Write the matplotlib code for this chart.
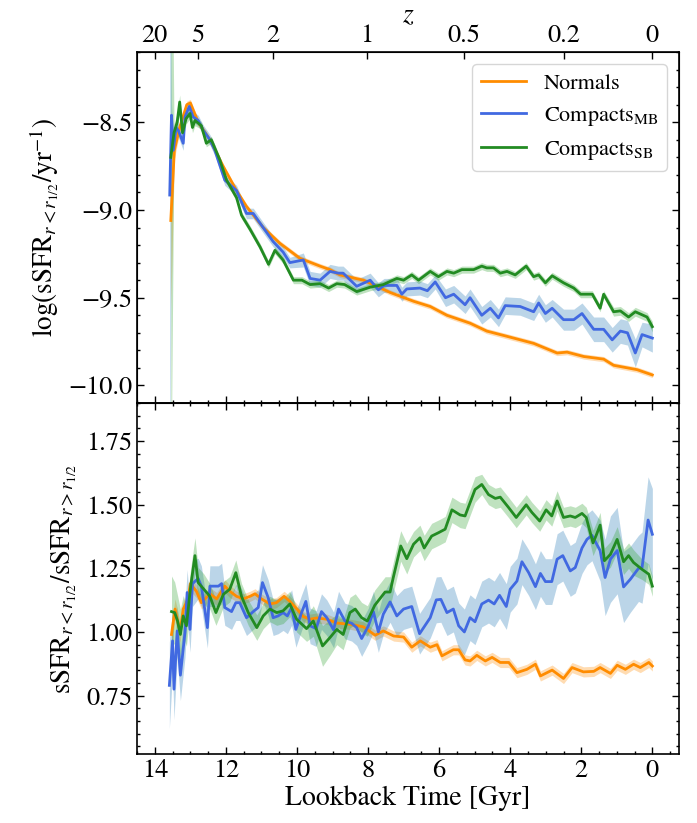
import numpy as np
import matplotlib
matplotlib.use("Agg")
import matplotlib.pyplot as plt
from matplotlib.ticker import MultipleLocator

plt.rcParams['font.family'] = ['STIXGeneral', 'DejaVu Serif']
plt.rcParams['mathtext.fontset'] = 'stix'

# --- gorny panel: log sSFR wewnatrz r_1/2 ---
t_norm_top = [13.55, 13.45, 13.30, 13.10, 13.00, 12.78, 12.45, 12.08, 11.70, 11.42, 10.95, 10.48,
              9.92, 9.35, 9.07, 8.79, 8.13, 7.38, 6.72, 6.25, 5.78, 5.13, 4.66, 4.09, 3.34,
              2.68, 2.40, 1.93, 1.37, 1.09, 0.43, 0.00]
v_norm_top = [-9.06, -8.66, -8.53, -8.40, -8.39, -8.50, -8.60, -8.75, -8.89, -8.98, -9.10, -9.19,
              -9.275, -9.32, -9.34, -9.37, -9.40, -9.47, -9.52, -9.55, -9.60, -9.645, -9.69, -9.72, -9.76,
              -9.815, -9.81, -9.835, -9.85, -9.885, -9.91, -9.94]
e_norm_top = [0.5, 0.05, 0.03, 0.02, 0.02, 0.02, 0.015, 0.015, 0.015, 0.015, 0.015, 0.015,
              0.015, 0.015, 0.015, 0.015, 0.015, 0.015, 0.015, 0.015, 0.015, 0.015, 0.015, 0.015, 0.015,
              0.015, 0.015, 0.015, 0.015, 0.015, 0.015, 0.015]

t_mb_top = [13.58, 13.53, 13.48, 13.40, 13.33, 13.20, 13.15, 13.03, 12.92, 12.78, 12.64, 12.45,
            12.31, 12.03, 11.70, 11.42, 11.23, 11.04, 10.67, 10.39, 10.20, 9.82, 9.63, 9.35,
            9.07, 8.84, 8.70, 8.32, 7.94, 7.71, 7.55, 7.19, 7.05, 6.91, 6.54, 6.33, 6.11,
            5.82, 5.59, 5.27, 5.13, 4.80, 4.56, 4.33, 4.14, 3.72, 3.34, 3.20, 3.01, 2.82,
            2.50, 2.21, 1.98, 1.65, 1.37, 1.13, 0.90, 0.70, 0.48, 0.29, 0.00]
v_mb_top = [-8.915, -8.46, -8.66, -8.53, -8.55, -8.62, -8.47, -8.41, -8.47, -8.49, -8.545, -8.60,
            -8.66, -8.83, -8.89, -9.02, -9.02, -9.075, -9.18, -9.24, -9.30, -9.285, -9.39, -9.40,
            -9.35, -9.36, -9.36, -9.435, -9.40, -9.455, -9.43, -9.43, -9.48, -9.45, -9.445, -9.46, -9.41,
            -9.50, -9.48, -9.54, -9.50, -9.60, -9.56, -9.615, -9.545, -9.55, -9.58, -9.53, -9.59, -9.56,
            -9.625, -9.625, -9.59, -9.68, -9.68, -9.74, -9.69, -9.70, -9.815, -9.71, -9.73]
e_mb_top = [2.0, 0.06, 0.06, 0.04, 0.04, 0.04, 0.03, 0.03, 0.03, 0.03, 0.03, 0.03,
            0.03, 0.03, 0.03, 0.03, 0.03, 0.03, 0.03, 0.03, 0.03, 0.04, 0.04, 0.04,
            0.04, 0.04, 0.04, 0.04, 0.04, 0.04, 0.04, 0.04, 0.04, 0.04, 0.04, 0.04, 0.04,
            0.05, 0.05, 0.05, 0.05, 0.05, 0.05, 0.05, 0.05, 0.05, 0.05, 0.05, 0.05, 0.05,
            0.06, 0.06, 0.06, 0.07, 0.07, 0.07, 0.07, 0.07, 0.08, 0.07, 0.08]

t_sb_top = [13.55, 13.46, 13.37, 13.30, 13.22, 13.12, 13.01, 12.94, 12.87, 12.69, 12.55, 12.41,
            12.17, 11.98, 11.70, 11.56, 11.32, 11.04, 10.80, 10.62, 10.39, 10.10, 9.86, 9.63,
            9.35, 9.11, 8.88, 8.66, 8.32, 7.94, 7.57, 7.19, 7.00, 6.77, 6.58, 6.25, 6.02,
            5.78, 5.59, 5.36, 5.03, 4.80, 4.66, 4.47, 4.28, 4.09, 3.86, 3.55, 3.34, 3.20,
            3.01, 2.82, 2.50, 2.21, 2.02, 1.69, 1.47, 1.37, 1.09, 0.90, 0.67, 0.48, 0.15, 0.00]
v_sb_top = [-8.70, -8.56, -8.50, -8.385, -8.56, -8.48, -8.45, -8.53, -8.49, -8.52, -8.62, -8.60,
            -8.715, -8.83, -8.93, -9.03, -9.11, -9.21, -9.31, -9.23, -9.285, -9.40, -9.40, -9.425,
            -9.42, -9.445, -9.42, -9.425, -9.465, -9.44, -9.425, -9.39, -9.40, -9.37, -9.40, -9.35, -9.38,
            -9.35, -9.36, -9.34, -9.34, -9.32, -9.33, -9.33, -9.36, -9.35, -9.37, -9.32, -9.38, -9.37,
            -9.415, -9.375, -9.415, -9.445, -9.48, -9.48, -9.56, -9.48, -9.58, -9.575, -9.61, -9.58, -9.61, -9.665]
e_sb_top = [2.0, 0.05, 0.05, 0.04, 0.04, 0.03, 0.03, 0.03, 0.03, 0.02, 0.02, 0.02,
            0.02, 0.02, 0.02, 0.02, 0.02, 0.02, 0.02, 0.02, 0.02, 0.02, 0.02, 0.02,
            0.02, 0.02, 0.02, 0.02, 0.02, 0.02, 0.02, 0.02, 0.02, 0.02, 0.02, 0.02, 0.02,
            0.02, 0.02, 0.02, 0.02, 0.02, 0.02, 0.02, 0.02, 0.02, 0.02, 0.02, 0.02, 0.02,
            0.02, 0.02, 0.02, 0.02, 0.02, 0.02, 0.02, 0.02, 0.025, 0.025, 0.025, 0.025, 0.025, 0.03]

# --- dolny panel: stosunek sSFR wewnatrz / na zewnatrz ---
t_norm_bot = [13.53, 13.43, 13.29, 13.20, 13.06, 13.00, 12.83, 12.69, 12.45, 12.26, 12.03, 11.89,
              11.70, 11.51, 11.32, 11.18, 11.00, 10.76, 10.58, 10.36, 10.20, 10.00, 9.82, 9.63,
              9.44, 9.16, 8.88, 8.50, 8.13, 7.80, 7.57, 7.28, 7.00, 6.77, 6.53, 6.25, 6.06,
              5.92, 5.60, 5.45, 5.27, 5.13, 4.94, 4.70, 4.51, 4.28, 4.04, 3.81, 3.53, 3.29,
              3.15, 2.82, 2.50, 2.26, 1.94, 1.65, 1.47, 1.18, 0.99, 0.76, 0.53, 0.34, 0.10, 0.00]
v_norm_bot = [0.99, 1.09, 1.00, 1.09, 1.13, 1.19, 1.16, 1.115, 1.15, 1.13, 1.18, 1.16,
              1.14, 1.13, 1.14, 1.15, 1.13, 1.11, 1.115, 1.14, 1.12, 1.09, 1.06, 1.05,
              1.055, 1.05, 1.035, 1.03, 1.02, 0.987, 1.004, 0.984, 0.98, 0.94, 0.965, 0.94, 0.95,
              0.906, 0.93, 0.93, 0.89, 0.886, 0.908, 0.886, 0.90, 0.88, 0.88, 0.84, 0.853, 0.873,
              0.827, 0.85, 0.817, 0.86, 0.843, 0.845, 0.86, 0.837, 0.869, 0.853, 0.873, 0.86, 0.88, 0.866]
e_norm_bot = [0.05, 0.04, 0.04, 0.03, 0.03, 0.03, 0.025, 0.025, 0.025, 0.025, 0.025, 0.025,
              0.02, 0.02, 0.02, 0.02, 0.02, 0.02, 0.02, 0.02, 0.02, 0.02, 0.02, 0.02,
              0.02, 0.02, 0.02, 0.02, 0.02, 0.02, 0.02, 0.02, 0.02, 0.02, 0.02, 0.02, 0.02,
              0.02, 0.02, 0.02, 0.02, 0.02, 0.02, 0.02, 0.02, 0.02, 0.02, 0.02, 0.02, 0.02,
              0.02, 0.02, 0.02, 0.02, 0.02, 0.02, 0.02, 0.02, 0.02, 0.02, 0.02, 0.02, 0.02, 0.02]

t_mb_bot = [13.59, 13.50, 13.46, 13.37, 13.28, 13.15, 13.09, 13.01, 12.94, 12.78, 12.69, 12.52,
            12.45, 12.21, 12.12, 12.03, 11.84, 11.72, 11.61, 11.42, 11.23, 11.09, 10.97, 10.81,
            10.67, 10.53, 10.39, 10.27, 10.15, 10.03, 9.87, 9.75, 9.63, 9.46, 9.31, 9.16, 8.97,
            8.83, 8.65, 8.46, 8.32, 8.18, 7.99, 7.85, 7.71, 7.57, 7.38, 7.19, 7.00, 6.77,
            6.55, 6.25, 6.08, 5.95, 5.78, 5.60, 5.45, 5.29, 5.13, 4.99, 4.80, 4.61, 4.45,
            4.30, 4.11, 4.00, 3.81, 3.67, 3.48, 3.29, 3.15, 3.01, 2.83, 2.68, 2.52, 2.31,
            2.17, 1.98, 1.84, 1.70, 1.47, 1.33, 1.18, 0.99, 0.81, 0.62, 0.39, 0.29, 0.12, 0.00]
v_mb_bot = [0.79, 0.965, 0.775, 1.004, 0.83, 1.0, 1.155, 1.01, 1.19, 1.21, 1.18, 1.017,
            1.18, 1.18, 1.19, 1.096, 1.08, 1.115, 1.115, 1.056, 1.08, 1.096, 1.194, 1.135,
            1.056, 1.063, 1.076, 1.063, 1.096, 1.01, 1.076, 1.12, 1.024, 1.013, 1.08, 1.056, 1.008,
            1.09, 1.043, 1.034, 1.017, 0.974, 1.024, 1.08, 1.0, 1.07, 1.118, 1.063, 1.09, 1.10,
            0.993, 1.056, 1.126, 1.128, 1.076, 1.09, 1.024, 1.0, 1.056, 1.04, 1.11, 1.125, 1.11,
            1.144, 1.10, 1.168, 1.20, 1.276, 1.233, 1.178, 1.23, 1.198, 1.198, 1.286, 1.30, 1.24,
            1.253, 1.33, 1.364, 1.38, 1.32, 1.214, 1.286, 1.32, 1.177, 1.207, 1.25, 1.253, 1.44, 1.384]
e_mb_bot = [0.17, 0.12, 0.12, 0.1, 0.1, 0.1, 0.09, 0.09, 0.09, 0.08, 0.08, 0.08,
            0.08, 0.08, 0.08, 0.07, 0.07, 0.07, 0.07, 0.07, 0.07, 0.07, 0.07, 0.07,
            0.07, 0.07, 0.07, 0.07, 0.07, 0.07, 0.07, 0.07, 0.07, 0.07, 0.07, 0.07, 0.07,
            0.07, 0.07, 0.07, 0.07, 0.07, 0.07, 0.08, 0.08, 0.08, 0.08, 0.08, 0.08, 0.08,
            0.08, 0.08, 0.09, 0.09, 0.09, 0.09, 0.09, 0.09, 0.09, 0.09, 0.09, 0.09, 0.09,
            0.09, 0.09, 0.09, 0.09, 0.09, 0.09, 0.09, 0.09, 0.09, 0.09, 0.1, 0.1, 0.1,
            0.1, 0.1, 0.1, 0.1, 0.12, 0.15, 0.17, 0.17, 0.14, 0.13, 0.13, 0.14, 0.17, 0.18]

t_sb_bot = [13.53, 13.44, 13.36, 13.28, 13.20, 13.11, 12.99, 12.87, 12.78, 12.62, 12.45, 12.28,
            12.07, 11.89, 11.72, 11.56, 11.37, 11.13, 10.95, 10.76, 10.57, 10.39, 10.20, 10.01,
            9.73, 9.54, 9.28, 9.07, 8.88, 8.70, 8.51, 8.36, 8.18, 8.02, 7.81, 7.52, 7.38,
            7.29, 7.08, 6.91, 6.72, 6.54, 6.42, 6.21, 6.02, 5.83, 5.64, 5.41, 5.27, 4.99,
            4.80, 4.61, 4.42, 4.28, 4.05, 3.83, 3.55, 3.39, 3.17, 2.99, 2.83, 2.68, 2.50,
            2.31, 2.17, 1.98, 1.86, 1.67, 1.58, 1.47, 1.35, 1.18, 0.99, 0.81, 0.67, 0.53,
            0.29, 0.10, 0.00]
v_sb_bot = [1.08, 1.076, 1.043, 0.99, 1.063, 1.024, 1.18, 1.30, 1.194, 1.168, 1.14, 1.076,
            1.148, 1.168, 1.233, 1.14, 1.076, 1.017, 1.063, 1.09, 1.076, 1.083, 1.11, 1.05,
            1.013, 1.043, 0.945, 0.978, 1.01, 0.99, 1.076, 1.09, 1.056, 1.043, 1.105, 1.157, 1.157,
            1.214, 1.338, 1.288, 1.345, 1.37, 1.33, 1.377, 1.39, 1.404, 1.48, 1.46, 1.456, 1.56,
            1.58, 1.54, 1.525, 1.53, 1.49, 1.45, 1.50, 1.47, 1.436, 1.48, 1.456, 1.515, 1.45,
            1.456, 1.45, 1.466, 1.45, 1.35, 1.38, 1.42, 1.28, 1.305, 1.364, 1.276, 1.30, 1.273,
            1.246, 1.227, 1.18]
e_sb_bot = [0.14, 0.12, 0.1, 0.1, 0.08, 0.08, 0.07, 0.07, 0.06, 0.06, 0.05, 0.05,
            0.05, 0.05, 0.05, 0.05, 0.05, 0.05, 0.05, 0.05, 0.05, 0.05, 0.05, 0.05,
            0.05, 0.06, 0.08, 0.07, 0.06, 0.06, 0.06, 0.06, 0.06, 0.06, 0.06, 0.06, 0.06,
            0.06, 0.06, 0.06, 0.05, 0.05, 0.05, 0.05, 0.05, 0.05, 0.05, 0.05, 0.05, 0.05,
            0.04, 0.04, 0.04, 0.04, 0.04, 0.04, 0.04, 0.04, 0.04, 0.04, 0.04, 0.04, 0.04,
            0.04, 0.04, 0.04, 0.04, 0.05, 0.05, 0.05, 0.05, 0.05, 0.05, 0.05, 0.05, 0.05,
            0.04, 0.04, 0.04]

# os z (redshift) na gorze - pozycje w lookback time
z_labels = ['20', '5', '2', '1', '0.5', '0.2', '0']
z_lookback = [14.0, 12.78, 10.67, 8.04, 5.30, 2.50, 0.0]

series = [
    ('Normals', 'darkorange', 'darkorange', t_norm_top, v_norm_top, e_norm_top, t_norm_bot, v_norm_bot, e_norm_bot),
    (r'Compacts$_{\rm MB}$', 'royalblue', 'tab:blue', t_mb_top, v_mb_top, e_mb_top, t_mb_bot, v_mb_bot, e_mb_bot),
    (r'Compacts$_{\rm SB}$', 'forestgreen', 'tab:green', t_sb_top, v_sb_top, e_sb_top, t_sb_bot, v_sb_bot, e_sb_bot),
]

fig, (ax1, ax2) = plt.subplots(2, 1, figsize=(6.97, 8.23), dpi=100, sharex=True)
fig.subplots_adjust(left=0.1966, right=0.9742, top=0.9368, bottom=0.0838, hspace=0)

for label, lc, fc, tt, vt, et, tb, vb, eb in series:
    tt, vt, et = np.array(tt), np.array(vt), np.array(et)
    tb, vb, eb = np.array(tb), np.array(vb), np.array(eb)
    ax1.fill_between(tt, vt - et, vt + et, color=fc, alpha=0.3, lw=0)
    ax1.plot(tt, vt, color=lc, lw=2, label=label)
    ax2.fill_between(tb, vb - eb, vb + eb, color=fc, alpha=0.3, lw=0)
    ax2.plot(tb, vb, color=lc, lw=2, label=label)

ax1.set_xlim(14.5, -0.75)
ax1.set_ylim(-10.1, -8.1)
ax2.set_ylim(0.52, 1.9)

ax1.set_yticks([-10.0, -9.5, -9.0, -8.5])
ax1.set_yticklabels(['\u221210.0', '\u22129.5', '\u22129.0', '\u22128.5'])
ax1.yaxis.set_minor_locator(MultipleLocator(0.1))
ax2.set_yticks([0.75, 1.00, 1.25, 1.50, 1.75])
ax2.set_yticklabels(['0.75', '1.00', '1.25', '1.50', '1.75'])
ax2.yaxis.set_minor_locator(MultipleLocator(0.05))
ax2.xaxis.set_major_locator(MultipleLocator(2))
ax2.xaxis.set_minor_locator(MultipleLocator(0.5))

for ax in (ax1, ax2):
    ax.tick_params(which='both', direction='in', right=True, labelsize=19, width=1.0)
    ax.tick_params(which='major', length=5)
    ax.tick_params(which='minor', length=2.5)
    for s in ax.spines.values():
        s.set_linewidth(1.2)
ax1.tick_params(which='both', top=False)
ax2.tick_params(which='both', top=True)

ax1.set_ylabel(r'$\log(\mathrm{sSFR}_{r<r_{1/2}}/\mathrm{yr}^{-1})$', fontsize=19.5, labelpad=5)
ax2.set_ylabel(r'$\mathrm{sSFR}_{r<r_{1/2}}/\mathrm{sSFR}_{r>r_{1/2}}$', fontsize=19.5, labelpad=5)
ax2.set_xlabel('Lookback Time [Gyr]', fontsize=20, labelpad=2)

axz = ax1.twiny()
axz.set_xlim(ax1.get_xlim())
axz.set_xticks(z_lookback)
axz.set_xticklabels(z_labels)
axz.tick_params(which='major', direction='in', length=5, width=1.0, labelsize=19, pad=3)
axz.set_xlabel('$z$', fontsize=20, labelpad=1)

ax1.legend(loc='upper right', fontsize=16, handlelength=2.0, borderaxespad=0.55)

fig.savefig('out.png', dpi=100)
